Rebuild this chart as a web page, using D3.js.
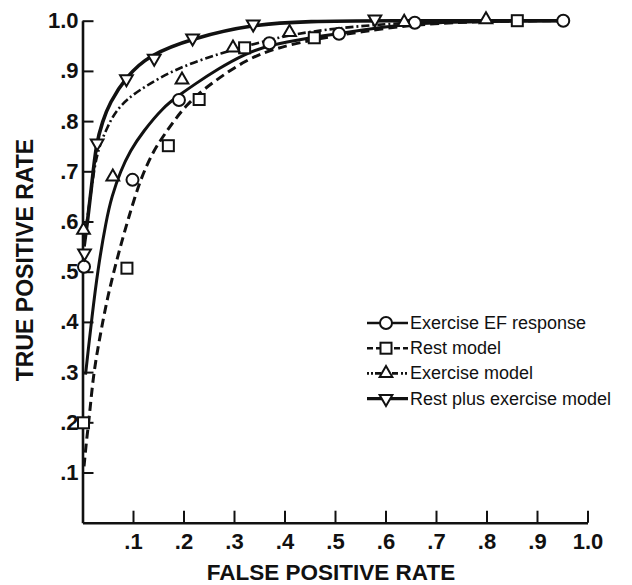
<!DOCTYPE html>
<html>
<head>
<meta charset="utf-8">
<script src="https://cdn.jsdelivr.net/npm/d3@7"></script>
<style>
  body { margin: 0; background: #fff; }
  text { font-family: "Liberation Sans", Arial, sans-serif; fill: #111; }
</style>
</head>
<body>
<div id="chart"></div>
<script>

// tick values and labels
let xTicks = [0.1, 0.2, 0.3, 0.4, 0.5, 0.6, 0.7, 0.8, 0.9, 1.0];
let xTickLabels = [".1", ".2", ".3", ".4", ".5", ".6", ".7", ".8", ".9", "1.0"];
let yTicks = [0.1, 0.2, 0.3, 0.4, 0.5, 0.6, 0.7, 0.8, 0.9, 1.0];
let yTickLabels = [".1", ".2", ".3", ".4", ".5", ".6", ".7", ".8", ".9", "1.0"];

let seriesNames = ["Exercise EF response", "Rest model", "Exercise model", "Rest plus exercise model"];

// observed points [false positive rate, true positive rate]
let efPoints = [[0.003, 0.51], [0.099, 0.683], [0.191, 0.842], [0.37, 0.955], [0.508, 0.974], [0.658, 0.996], [0.952, 1.0]];
let restPoints = [[0.002, 0.199], [0.088, 0.507], [0.17, 0.751], [0.231, 0.843], [0.321, 0.946], [0.459, 0.966], [0.861, 1.0]];
let exercisePoints = [[0.002, 0.583], [0.06, 0.689], [0.197, 0.882], [0.298, 0.946], [0.41, 0.977], [0.637, 0.997], [0.799, 1.002]];
let restExPoints = [[0.004, 0.537], [0.029, 0.756], [0.087, 0.884], [0.142, 0.925], [0.218, 0.965], [0.338, 0.993], [0.579, 1.003]];

// fitted curves
let efCurve = [[0.006, 0.295], [0.012, 0.35], [0.018, 0.403], [0.03, 0.503], [0.047, 0.603], [0.058, 0.65],
	[0.075, 0.7], [0.095, 0.742], [0.119, 0.778], [0.16, 0.828], [0.192, 0.852], [0.22, 0.872], [0.27, 0.905],
	[0.32, 0.933], [0.37, 0.952], [0.45, 0.966], [0.51, 0.975], [0.6, 0.988], [0.66, 0.995], [0.8, 0.999], [0.95, 1.0]];
let restCurve = [[0.003, 0.112], [0.008, 0.165], [0.013, 0.205], [0.021, 0.29], [0.03, 0.345], [0.04, 0.4],
	[0.05, 0.45], [0.062, 0.5], [0.075, 0.55], [0.089, 0.6], [0.114, 0.683], [0.14, 0.74], [0.16, 0.77],
	[0.205, 0.835], [0.264, 0.882], [0.324, 0.922], [0.38, 0.945], [0.46, 0.963], [0.55, 0.978],
	[0.66, 0.993], [0.8, 0.999], [0.95, 1.0]];
let exerciseCurve = [[0.003, 0.56], [0.01, 0.61], [0.017, 0.66], [0.024, 0.71], [0.033, 0.75], [0.05, 0.79],
	[0.066, 0.82], [0.09, 0.845], [0.119, 0.866], [0.185, 0.905], [0.278, 0.937], [0.357, 0.958],
	[0.41, 0.972], [0.5, 0.985], [0.64, 0.997], [0.8, 1.0], [0.95, 1.0]];
let restExCurve = [[0.003, 0.55], [0.01, 0.6], [0.018, 0.67], [0.027, 0.756], [0.04, 0.8], [0.053, 0.835],
	[0.086, 0.888], [0.132, 0.932], [0.218, 0.965], [0.337, 0.993], [0.45, 0.999], [0.58, 1.0], [0.95, 1.0]];


let margin = { top: 20.7, right: 44.5, bottom: 62.3, left: 82.5 };
let width = 632 - margin.left - margin.right,
	height = 585 - margin.top - margin.bottom;

let svg = d3.select("#chart").append("svg")
	.attr("width", 632)
	.attr("height", 585)
	.append("g")
	.attr("transform", "translate(" + margin.left + "," + margin.top + ")");

let x = d3.scaleLinear().domain([0, 1]).range([0, width]);
let y = d3.scaleLinear().domain([0, 1]).range([height, 0]);

// Axes (ticks point into the plot)
let xAxis = d3.axisBottom(x)
	.tickValues(xTicks)
	.tickFormat((d, i) => xTickLabels[i])
	.tickSizeInner(-12)
	.tickSizeOuter(0)
	.tickPadding(11);

let yAxis = d3.axisLeft(y)
	.tickValues(yTicks)
	.tickFormat((d, i) => yTickLabels[i])
	.tickSizeInner(-11)
	.tickSizeOuter(0)
	.tickPadding(4);

let gx = svg.append("g")
	.attr("transform", "translate(0," + height + ")")
	.call(xAxis);
let gy = svg.append("g").call(yAxis);

[gx, gy].forEach(g => {
	g.select(".domain").attr("stroke", "#111").attr("stroke-width", 2.6);
	g.selectAll(".tick line").attr("stroke", "#111").attr("stroke-width", 2);
	g.selectAll(".tick text")
		.attr("fill", "#111")
		.style("font-size", "22px")
		.style("font-weight", "bold")
		.style("font-family", "'Liberation Sans', Arial, sans-serif");
});

// Axis titles
svg.append("text")
	.attr("x", 331 - margin.left)
	.attr("y", 580 - margin.top)
	.attr("text-anchor", "middle")
	.attr("style", "font-size: 22.5px; font-weight: bold")
	.text("FALSE POSITIVE RATE");

svg.append("text")
	.attr("transform", "translate(" + (33 - margin.left) + "," + (260 - margin.top) + ") rotate(-90)")
	.attr("text-anchor", "middle")
	.attr("style", "font-size: 23px; font-weight: bold")
	.text("TRUE POSITIVE RATE");

// Series styles
let series = [
	{ name: seriesNames[0], curve: efCurve, points: efPoints, symbol: "circle", width: 3, dash: null },
	{ name: seriesNames[1], curve: restCurve, points: restPoints, symbol: "square", width: 3, dash: "9,5" },
	{ name: seriesNames[2], curve: exerciseCurve, points: exercisePoints, symbol: "up", width: 2.6, dash: "8,3,2,3" },
	{ name: seriesNames[3], curve: restExCurve, points: restExPoints, symbol: "down", width: 3.6, dash: null }
];

let line = d3.line()
	.curve(d3.curveBasis)
	.x(d => x(d[0]))
	.y(d => y(d[1]));

svg.selectAll(".roc")
	.data(series)
	.enter().append("path")
	.attr("class", "roc")
	.attr("d", d => line(d.curve))
	.attr("fill", "none")
	.attr("stroke", "#111")
	.attr("stroke-width", d => d.width)
	.attr("stroke-dasharray", d => d.dash);

// markers
function drawMarker(g, kind) {
	if (kind === "circle") {
		g.append("circle").attr("r", 6);
	} else if (kind === "square") {
		g.append("rect").attr("x", -5.5).attr("y", -5.5).attr("width", 11).attr("height", 11);
	} else {
		g.append("path")
			.attr("d", d3.symbol().type(d3.symbolTriangle).size(70)())
			.attr("transform", kind === "down" ? "rotate(180)" : null);
	}
	g.selectAll("*").attr("fill", "#fff").attr("stroke", "#111").attr("stroke-width", 2);
}

series.forEach(s => {
	svg.selectAll(null)
		.data(s.points)
		.enter().append("g")
		.attr("transform", d => "translate(" + x(d[0]) + "," + y(d[1]) + ")")
		.each(function () { drawMarker(d3.select(this), s.symbol); });
});

// Legend
let legend = svg.append("g")
	.attr("transform", "translate(" + (367 - margin.left) + "," + (323 - margin.top) + ")");

let rows = legend.selectAll(".row")
	.data(series)
	.enter().append("g")
	.attr("class", "row")
	.attr("transform", (d, i) => "translate(0," + i * 25.2 + ")");

rows.append("line")
	.attr("x1", 0).attr("x2", 41)
	.attr("stroke", "#111")
	.attr("stroke-width", d => d.symbol === "down" ? 3.4 : 2.6)
	.attr("stroke-dasharray", d => d.dash === "9,5" ? "6,3" : (d.dash ? "2,2,2,2,6,3" : null));

rows.append("g")
	.attr("transform", "translate(19,0)")
	.each(function (d) { drawMarker(d3.select(this), d.symbol); });

rows.append("text")
	.attr("x", 43)
	.attr("y", 6)
	.attr("style", "font-size: 18px")
	.text(d => d.name);

</script>
</body>
</html>
